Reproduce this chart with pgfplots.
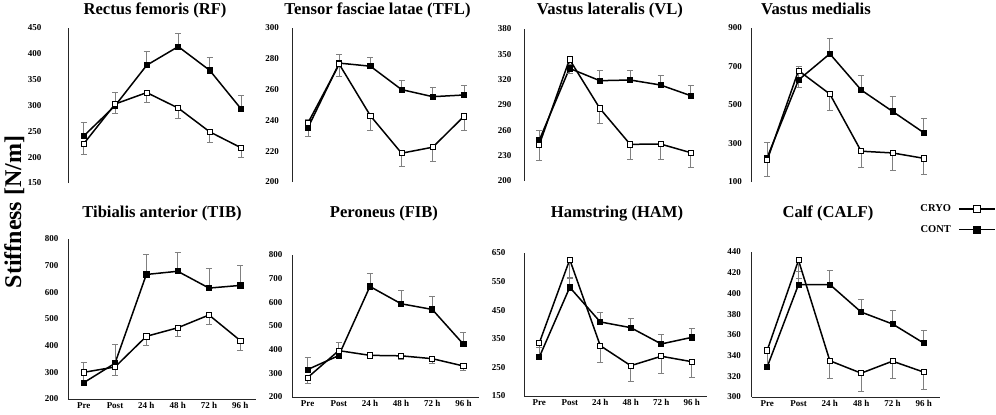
\documentclass[border=0pt]{standalone}
\usepackage{fontspec}
\setmainfont{Liberation Serif}
\usepackage{pgfplots}
\pgfplotsset{compat=1.18}
\pgfplotsset{
  mypanel/.style={
    scale only axis, anchor=south west, clip=false,
    xmin=-0.5, xmax=5.5,
    axis y line=left,
    axis line style={-, black!85, line width=0.8pt},
    major tick length=0pt,
    yticklabel style={font=\fontsize{9}{9}\selectfont\bfseries},
    /pgf/number format/assume math mode=true,
  },
  toprow/.style={mypanel, axis x line=none},
  botrow/.style={mypanel, axis x line=bottom,
    x axis line style={-, black!85, line width=0.8pt},
    xtick={0,...,5},
    xticklabels={Pre,Post,24 h,48 h,72 h,96 h},
    xticklabel style={font=\fontsize{9}{9}\selectfont\bfseries}},
  series/.style={black, line width=1.5pt, mark size=2.6pt,
    error bars/y explicit,
    error bars/error bar style={gray, line width=0.7pt},
    error bars/error mark options={rotate=90, gray, mark size=3pt, line width=0.7pt}},
  cryo/.style={series, mark=square*, mark options={fill=white, draw=black, line width=0.8pt},
    error bars/y dir=minus},
  cont/.style={series, mark=square*, mark options={fill=black, draw=black, line width=0.8pt},
    error bars/y dir=plus},
}
\begin{document}
\begin{tikzpicture}
\path[use as bounding box] (0pt,0pt) rectangle (996pt,-415pt);
\tikzset{ttl/.style={anchor=base, font=\fontsize{16.6}{17}\selectfont\bfseries}}
% titles
\node[ttl] at (155pt,-14.5pt) {Rectus femoris (RF)};
\node[ttl] at (377.5pt,-14.5pt) {Tensor fasciae latae (TFL)};
\node[ttl] at (610pt,-14.5pt) {Vastus lateralis (VL)};
\node[ttl] at (816pt,-14.5pt) {Vastus medialis};
\node[ttl] at (162pt,-217pt) {Tibialis anterior (TIB)};
\node[ttl] at (384pt,-217pt) {Peroneus (FIB)};
\node[ttl] at (617pt,-217pt) {Hamstring (HAM)};
\node[ttl] at (828pt,-217pt) {Calf (CALF)};
\node[rotate=90, anchor=base, font=\fontsize{24}{24}\selectfont\bfseries] at (21pt,-212pt) {Stiffness [N/m]};

% RF
\begin{axis}[toprow, at={(68pt,-183pt)}, width=189pt, height=155pt,
  ymin=150, ymax=450, ytick={150,200,...,450}, yticklabel style={xshift=-23pt}]
\addplot[cont] coordinates {(0,241)+-(0,26) (1,300)+-(0,25) (2,378)+-(0,26) (3,414)+-(0,26) (4,368)+-(0,25) (5,293)+-(0,27)};
\addplot[cryo] coordinates {(0,226)+-(0,20) (1,303)+-(0,19) (2,325)+-(0,19) (3,295)+-(0,20) (4,249)+-(0,20) (5,218)+-(0,18)};
\end{axis}
% TFL
\begin{axis}[toprow, at={(292.5pt,-182pt)}, width=187pt, height=154pt,
  ymin=200, ymax=300, ytick={200,220,...,300}, yticklabel style={xshift=-10pt}]
\addplot[cont] coordinates {(0,235.4)+-(0,5) (1,277.2)+-(0,6) (2,275.2)+-(0,6) (3,260)+-(0,6) (4,255.4)+-(0,6) (5,256.5)+-(0,6)};
\addplot[cryo] coordinates {(0,238.5)+-(0,8.7) (1,276.5)+-(0,8) (2,243)+-(0,9.3) (3,218.7)+-(0,8.7) (4,222.6)+-(0,9.3) (5,242.6)+-(0,9)};
\end{axis}
% VL
\begin{axis}[toprow, at={(524pt,-181pt)}, width=182pt, height=152pt,
  ymin=200, ymax=380, ytick={200,230,...,380}, yticklabel style={xshift=-9pt}]
\addplot[cont] coordinates {(0,248)+-(0,12) (1,333.4)+-(0,5) (2,318.8)+-(0,11.8) (3,319.6)+-(0,11.8) (4,313.7)+-(0,11.3) (5,301)+-(0,12)};
\addplot[cryo] coordinates {(0,242.6)+-(0,17.6) (1,344)+-(0,17) (2,286)+-(0,18) (3,243.4)+-(0,17.4) (4,243.8)+-(0,17.8) (5,233.5)+-(0,17.7)};
\end{axis}
% VM
\begin{axis}[toprow, at={(751.5pt,-182pt)}, width=188pt, height=154pt,
  ymin=100, ymax=900, ytick={100,300,...,900}, yticklabel style={xshift=-6pt}]
\addplot[cont] coordinates {(0,227)+-(0,80) (1,630)+-(0,73) (2,766)+-(0,78) (3,578)+-(0,75) (4,467)+-(0,80) (5,356)+-(0,74)};
\addplot[cryo] coordinates {(0,213)+-(0,82) (1,679)+-(0,87) (2,557)+-(0,83) (3,260)+-(0,86) (4,251)+-(0,90) (5,223)+-(0,83)};
\end{axis}
% TIB
\begin{axis}[botrow, at={(68pt,-399pt)}, width=188pt, height=160pt,
  ymin=200, ymax=800, ytick={200,300,...,800}, yticklabel style={xshift=-6pt}]
\addplot[cont] coordinates {(0,261)+-(0,75) (1,334)+-(0,72) (2,667)+-(0,75) (3,679)+-(0,72) (4,616)+-(0,73) (5,626)+-(0,74)};
\addplot[cryo] coordinates {(0,300)+-(0,35) (1,320)+-(0,33) (2,435)+-(0,35) (3,467)+-(0,33) (4,515)+-(0,34) (5,419)+-(0,35)};
\end{axis}
% FIB
\begin{axis}[botrow, at={(292pt,-397pt)}, width=187pt, height=142pt,
  ymin=200, ymax=800, ytick={200,300,...,800}, yticklabel style={xshift=-6pt}]
\addplot[cont] coordinates {(0,316)+-(0,53) (1,375)+-(0,54) (2,667)+-(0,55) (3,594)+-(0,55) (4,570)+-(0,56) (5,423)+-(0,51)};
\addplot[cryo] coordinates {(0,282)+-(0,23) (1,396)+-(0,16) (2,376)+-(0,14) (3,374)+-(0,16) (4,362)+-(0,18) (5,331)+-(0,18)};
\end{axis}
% HAM
\begin{axis}[botrow, at={(524pt,-396pt)}, width=183pt, height=143pt,
  ymin=150, ymax=650, ytick={150,250,...,650}, yticklabel style={xshift=-15pt}]
\addplot[cont] coordinates {(0,285.5)+-(0,33) (1,530)+-(0,33) (2,409)+-(0,33) (3,389)+-(0,33) (4,332)+-(0,33) (5,355)+-(0,32)};
\addplot[cryo] coordinates {(0,335)+-(0,55) (1,627)+-(0,62) (2,326)+-(0,59) (3,256)+-(0,56) (4,289)+-(0,60) (5,270)+-(0,55)};
\end{axis}
% CALF
\begin{axis}[botrow, at={(751.5pt,-397pt)}, width=188pt, height=145pt,
  ymin=300, ymax=440, ytick={300,320,...,440}, yticklabel style={xshift=-7pt},
  reverse legend, legend plot pos=right, legend cell align=right,
  legend image code/.code={\draw[mark repeat=2,mark phase=2,#1] plot coordinates {(0pt,0pt) (18pt,0pt) (36pt,0pt)};},
  legend image post style={mark size=3.6pt, line width=1.7pt},
  legend style={draw=none, fill=none, at={(axis description cs:1.30,1.34)}, anchor=north east,
    font=\fontsize{10.5}{11}\selectfont\bfseries, row sep=8pt, inner sep=0pt, column sep=5pt}]
\addplot[cont] coordinates {(0,329)+-(0,13) (1,408.6)+-(0,13) (2,408.6)+-(0,13.4) (3,382)+-(0,12.7) (4,370.5)+-(0,13.2) (5,352)+-(0,12)};
\addlegendentry{CONT}
\addplot[cryo] coordinates {(0,345)+-(0,17) (1,432)+-(0,17) (2,335)+-(0,17) (3,323)+-(0,18) (4,334.6)+-(0,16.6) (5,324)+-(0,17)};
\addlegendentry{CRYO}
\end{axis}
\end{tikzpicture}
\end{document}
